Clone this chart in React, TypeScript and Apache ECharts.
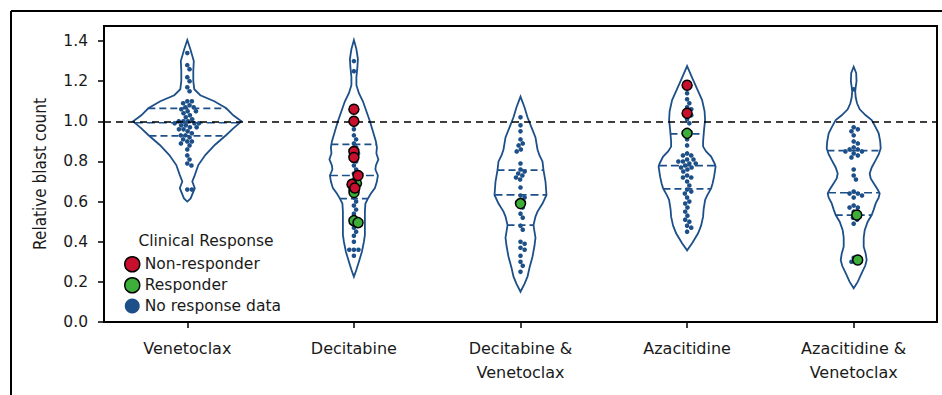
import React, { useEffect, useRef } from "react";
import * as echarts from "echarts";

const categories = [
  "Venetoclax",
  "Decitabine",
  "Decitabine &\nVenetoclax",
  "Azacitidine",
  "Azacitidine &\nVenetoclax",
];

// Patients without clinical response data (small blue dots)
const noResponseVen = [1.34, 1.28, 1.26, 1.22, 1.2, 1.17, 1.15, 1.1, 1.1, 1.09, 1.08, 1.07, 1.07, 1.06, 1.05, 1.05, 1.04, 1.03, 1.02, 1.01, 1.0, 1.0, 1.0, 0.99, 0.99, 0.99, 0.98, 0.98, 0.97, 0.97, 0.96, 0.96, 0.95, 0.94, 0.93, 0.93, 0.92, 0.91, 0.9, 0.9, 0.89, 0.88, 0.86, 0.83, 0.81, 0.79, 0.78, 0.66, 0.66];
const noResponseDec = [1.3, 1.25, 0.96, 0.93, 0.91, 0.89, 0.87, 0.84, 0.8, 0.78, 0.76, 0.74, 0.71, 0.66, 0.62, 0.6, 0.58, 0.56, 0.54, 0.47, 0.45, 0.43, 0.4, 0.36, 0.36, 0.36, 0.33];
const noResponseDecVen = [1.02, 0.98, 0.95, 0.91, 0.89, 0.88, 0.86, 0.85, 0.79, 0.76, 0.75, 0.74, 0.73, 0.72, 0.71, 0.67, 0.63, 0.62, 0.57, 0.54, 0.52, 0.48, 0.46, 0.4, 0.39, 0.37, 0.36, 0.33, 0.3, 0.28, 0.25];
const noResponseAza = [1.14, 1.11, 1.09, 1.07, 1.06, 1.03, 1.01, 0.99, 0.91, 0.88, 0.84, 0.83, 0.83, 0.81, 0.81, 0.8, 0.8, 0.79, 0.79, 0.78, 0.77, 0.77, 0.76, 0.75, 0.73, 0.72, 0.72, 0.7, 0.68, 0.66, 0.65, 0.64, 0.62, 0.6, 0.59, 0.57, 0.55, 0.53, 0.51, 0.5, 0.48, 0.47, 0.45];
const noResponseAzaVen = [1.16, 0.97, 0.96, 0.95, 0.93, 0.9, 0.89, 0.87, 0.86, 0.86, 0.85, 0.85, 0.84, 0.83, 0.82, 0.76, 0.73, 0.71, 0.65, 0.64, 0.64, 0.63, 0.62, 0.58, 0.57, 0.57, 0.55, 0.52, 0.51, 0.49, 0.32, 0.3];

// Non-responders (red) and responders (green)
const nonResponderVen: number[] = [];
const nonResponderDec = [1.06, 1.0, 0.85, 0.82, 0.73, 0.686, 0.668];
const nonResponderDecVen: number[] = [];
const nonResponderAza = [1.18, 1.04];
const nonResponderAzaVen: number[] = [];

const responderVen: number[] = [];
const responderDec = [0.691, 0.645, 0.505, 0.495];
const responderDecVen = [0.59];
const responderAza = [0.94];
const responderAzaVen = [0.533, 0.309];

// Violin outlines: [value, half width as a fraction of the category band]
const violinVen = [[1.405, 0], [1.36, 0.018], [1.3, 0.039], [1.25, 0.036], [1.2, 0.036], [1.16, 0.042], [1.13, 0.078], [1.1, 0.162], [1.065, 0.234], [1.03, 0.276], [1.0, 0.325], [0.965, 0.276], [0.932, 0.234], [0.882, 0.165], [0.832, 0.108], [0.782, 0.066], [0.732, 0.045], [0.7, 0.03], [0.667, 0.045], [0.616, 0.02], [0.6, 0]];
const violinDec = [[1.405, 0], [1.36, 0.015], [1.31, 0.024], [1.27, 0.021], [1.22, 0.015], [1.18, 0.015], [1.14, 0.03], [1.1, 0.054], [1.05, 0.075], [1.0, 0.096], [0.95, 0.114], [0.9, 0.132], [0.87, 0.138], [0.84, 0.135], [0.81, 0.147], [0.78, 0.132], [0.76, 0.129], [0.73, 0.144], [0.7, 0.138], [0.667, 0.126], [0.64, 0.102], [0.615, 0.084], [0.59, 0.069], [0.55, 0.066], [0.5, 0.066], [0.434, 0.066], [0.4, 0.06], [0.35, 0.048], [0.3, 0.03], [0.26, 0.015], [0.225, 0]];
const violinDecVen = [[1.123, 0], [1.07, 0.024], [1.02, 0.042], [0.97, 0.066], [0.92, 0.09], [0.86, 0.102], [0.83, 0.114], [0.8, 0.132], [0.757, 0.138], [0.7, 0.15], [0.633, 0.156], [0.59, 0.132], [0.55, 0.102], [0.525, 0.09], [0.483, 0.078], [0.45, 0.084], [0.42, 0.09], [0.38, 0.084], [0.325, 0.072], [0.27, 0.054], [0.226, 0.042], [0.19, 0.024], [0.151, 0]];
const violinAza = [[1.275, 0], [1.206, 0.036], [1.15, 0.066], [1.106, 0.09], [1.05, 0.105], [1.006, 0.108], [0.96, 0.102], [0.9, 0.096], [0.874, 0.096], [0.85, 0.114], [0.824, 0.144], [0.79, 0.165], [0.774, 0.171], [0.724, 0.162], [0.69, 0.153], [0.666, 0.144], [0.63, 0.12], [0.608, 0.108], [0.56, 0.099], [0.525, 0.096], [0.48, 0.084], [0.442, 0.066], [0.392, 0.03], [0.357, 0]];
const violinAzaVen = [[1.272, 0], [1.24, 0.015], [1.2, 0.017], [1.17, 0.012], [1.15, 0.009], [1.12, 0.012], [1.09, 0.02], [1.06, 0.036], [1.03, 0.072], [1.006, 0.108], [0.97, 0.132], [0.94, 0.15], [0.9, 0.159], [0.865, 0.162], [0.835, 0.15], [0.807, 0.132], [0.77, 0.108], [0.74, 0.096], [0.715, 0.102], [0.691, 0.12], [0.66, 0.144], [0.641, 0.156], [0.62, 0.15], [0.591, 0.132], [0.56, 0.12], [0.533, 0.108], [0.5, 0.084], [0.458, 0.066], [0.42, 0.06], [0.375, 0.06], [0.34, 0.072], [0.309, 0.078], [0.28, 0.069], [0.243, 0.048], [0.2, 0.024], [0.168, 0]];

// Quartiles [Q3, median, Q1]
const quartilesVen = [1.065, 0.993, 0.927];
const quartilesDec = [0.885, 0.73, 0.615];
const quartilesDecVen = [0.757, 0.633, 0.483];
const quartilesAza = [0.937, 0.779, 0.663];
const quartilesAzaVen = [0.854, 0.644, 0.533];

const referenceLevel = 1.0;

const noResponse = [noResponseVen, noResponseDec, noResponseDecVen, noResponseAza, noResponseAzaVen];
const nonResponders = [nonResponderVen, nonResponderDec, nonResponderDecVen, nonResponderAza, nonResponderAzaVen];
const responders = [responderVen, responderDec, responderDecVen, responderAza, responderAzaVen];
const violins = [violinVen, violinDec, violinDecVen, violinAza, violinAzaVen];
const quartiles = [quartilesVen, quartilesDec, quartilesDecVen, quartilesAza, quartilesAzaVen];

const BLUE = "#1d4f88";
const RED = "#c8102e";
const GREEN = "#3dae3a";
const FONT = '"DejaVu Sans", "Noto Sans", sans-serif';

function swarm(ys: number[], d: number): number[] {
  const order = ys.map((_, i) => i).sort((a, b) => ys[a] - ys[b]);
  const placed: { x: number; y: number }[] = [];
  const out = new Array(ys.length).fill(0);
  for (const i of order) {
    const y = ys[i];
    const near = placed.filter((p) => Math.abs(p.y - y) < d);
    const cands = [0];
    for (const p of near) {
      const dx = Math.sqrt(d * d - (p.y - y) * (p.y - y));
      cands.push(p.x + dx, p.x - dx);
    }
    cands.sort((a, b) => Math.abs(a) - Math.abs(b));
    let chosen = 0;
    for (const c of cands) {
      if (near.every((p) => (p.x - c) * (p.x - c) + (p.y - y) * (p.y - y) >= d * d - 1e-6)) {
        chosen = c;
        break;
      }
    }
    placed.push({ x: chosen, y });
    out[i] = chosen;
  }
  return out;
}

function widthAt(profile: number[][], v: number): number {
  for (let i = 0; i < profile.length - 1; i++) {
    const [v1, w1] = profile[i];
    const [v2, w2] = profile[i + 1];
    if ((v <= v1 && v >= v2) || (v >= v1 && v <= v2)) {
      const t = v1 === v2 ? 0 : (v - v1) / (v2 - v1);
      return w1 + t * (w2 - w1);
    }
  }
  return 0;
}

const catData = categories.map((_, i) => [i, 0]);

export default function App() {
  const ref = useRef<HTMLDivElement>(null);
  useEffect(() => {
    if (!ref.current) return;
    const chart = echarts.init(ref.current, undefined, { renderer: "svg" });

    const violinRender = (params: any, api: any) => {
      const ci = api.value(0);
      const prof = violins[ci];
      const band = api.size([1, 0])[0];
      const cx = api.coord([ci, 0])[0];
      const right = prof.map(([v, w]) => [cx + w * band, api.coord([ci, v])[1]]);
      const left = prof
        .slice()
        .reverse()
        .map(([v, w]) => [cx - w * band, api.coord([ci, v])[1]]);
      const children: any[] = [
        {
          type: "polygon",
          shape: { points: right.concat(left) },
          style: { fill: "#ffffff", stroke: BLUE, lineWidth: 1.8 },
        },
      ];
      quartiles[ci].forEach((q, k) => {
        const hw = widthAt(prof, q) * band;
        const y = api.coord([ci, q])[1];
        children.push({
          type: "line",
          shape: { x1: cx - hw, y1: y, x2: cx + hw, y2: y },
          style: {
            stroke: BLUE,
            lineWidth: 1.7,
            lineDash: k === 1 ? [8, 4] : [7, 4],
          },
        });
      });
      return { type: "group", children };
    };

    const dotSpacing = 4.6;

    const pointRender = (kind: "blue" | "green" | "red") => (params: any, api: any) => {
      const ci = api.value(0);
      const cx = api.coord([ci, 0])[0];
      const blues = noResponse[ci];
      const reds = nonResponders[ci];
      const greens = responders[ci];
      const vals = blues.concat(reds, greens);
      const ys = vals.map((v) => api.coord([ci, v])[1]);
      const xs = swarm(ys, dotSpacing);
      const children: any[] = [];
      ys.forEach((y, i) => {
        const cls = i < blues.length ? "blue" : i < blues.length + reds.length ? "red" : "green";
        if (cls !== kind) return;
        if (cls === "blue") {
          children.push({
            type: "circle",
            shape: { cx: cx + xs[i], cy: y, r: 2.3 },
            style: { fill: BLUE },
          });
        } else {
          children.push({
            type: "circle",
            shape: { cx: cx + xs[i], cy: y, r: 5 },
            style: { fill: cls === "red" ? RED : GREEN, stroke: "#000", lineWidth: 1.5 },
          });
        }
      });
      return { type: "group", children };
    };

    const option: any = {
      animation: false,
      grid: {
        left: 104,
        top: 26,
        right: 5,
        bottom: 73,
        show: true,
        borderColor: "#000",
        borderWidth: 2,
        backgroundColor: "transparent",
      },
      xAxis: {
        type: "category",
        data: categories,
        boundaryGap: true,
        axisLine: { show: true, lineStyle: { color: "#000", width: 2 } },
        axisTick: { show: true, alignWithLabel: true, length: 6, lineStyle: { color: "#000", width: 1.5 } },
        axisLabel: {
          margin: 14,
          fontFamily: FONT,
          fontSize: 16,
          lineHeight: 24,
          color: "#1a1a1a",
          interval: 0,
        },
        splitLine: { show: false },
      },
      yAxis: {
        type: "value",
        min: 0,
        max: 1.475,
        interval: 0.2,
        axisLine: { show: true, lineStyle: { color: "#000", width: 2 } },
        axisTick: { show: true, length: 6, lineStyle: { color: "#000", width: 1.5 } },
        axisLabel: {
          margin: 16,
          fontFamily: FONT,
          fontSize: 15.5,
          color: "#1a1a1a",
          showMaxLabel: false,
          formatter: (v: number) => v.toFixed(1),
        },
        splitLine: { show: false },
      },
      legend: {
        orient: "vertical",
        left: 119,
        top: 251,
        itemWidth: 15,
        itemHeight: 15,
        itemGap: 4.5,
        textStyle: { fontFamily: FONT, fontSize: 15.5, color: "#1a1a1a", lineHeight: 15 },
        data: [
          { name: "Non-responder", icon: "circle", itemStyle: { color: RED, borderColor: "#000", borderWidth: 1.5 } },
          { name: "Responder", icon: "circle", itemStyle: { color: GREEN, borderColor: "#000", borderWidth: 1.5 } },
          { name: "No response data", icon: "circle", itemStyle: { color: BLUE, borderWidth: 0 } },
        ],
      },
      graphic: [
        { type: "line", shape: { x1: 11, y1: 11, x2: 942, y2: 11 }, style: { stroke: "#000", lineWidth: 2 } },
        { type: "line", shape: { x1: 11, y1: 11, x2: 11, y2: 395 }, style: { stroke: "#000", lineWidth: 2 } },
        {
          type: "text",
          x: 40,
          y: 174,
          rotation: Math.PI / 2,
          style: {
            text: "Relative blast count",
            font: '17px "DejaVu Sans Condensed", "Liberation Sans Narrow", sans-serif',
            fill: "#1a1a1a",
            textAlign: "center",
            textVerticalAlign: "middle",
          },
        },
        {
          type: "text",
          x: 206,
          y: 241,
          style: {
            text: "Clinical Response",
            font: "15.5px " + FONT,
            fill: "#1a1a1a",
            textAlign: "center",
            textVerticalAlign: "middle",
          },
        },
      ],
      series: [
        {
          type: "line",
          name: "ref",
          data: [],
          z: 1,
          silent: true,
          markLine: {
            silent: true,
            symbol: "none",
            label: { show: false },
            lineStyle: { color: "#000", type: [7, 5], width: 1.6 },
            data: [{ yAxis: referenceLevel }],
          },
        },
        {
          type: "custom",
          name: "violins",
          data: catData,
          encode: { x: 0, y: 1 },
          z: 2,
          renderItem: violinRender,
        },
        {
          type: "custom",
          name: "No response data",
          data: catData,
          encode: { x: 0, y: 1 },
          z: 3,
          itemStyle: { color: BLUE },
          renderItem: pointRender("blue"),
        },
        {
          type: "custom",
          name: "Responder",
          data: catData,
          encode: { x: 0, y: 1 },
          z: 4,
          itemStyle: { color: GREEN },
          renderItem: pointRender("green"),
        },
        {
          type: "custom",
          name: "Non-responder",
          data: catData,
          encode: { x: 0, y: 1 },
          z: 5,
          itemStyle: { color: RED },
          renderItem: pointRender("red"),
        },
      ],
    };
    chart.setOption(option);
    return () => chart.dispose();
  }, []);
  return <div ref={ref} style={{ width: 942, height: 395, position: "absolute", left: 0, top: 0 }} />;
}
